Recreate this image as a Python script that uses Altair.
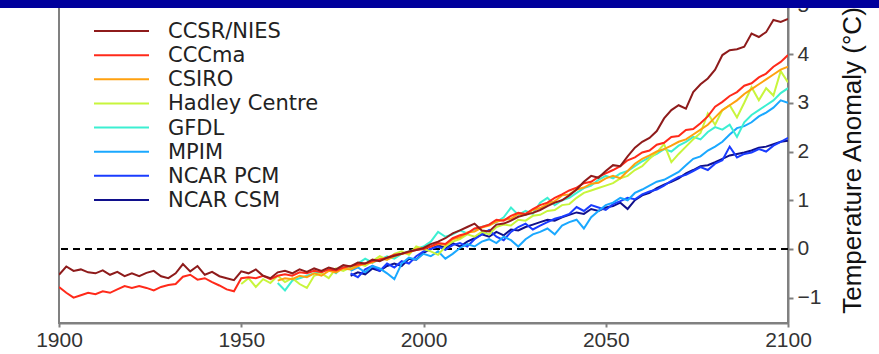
import altair as alt
import pandas as pd

# Projected global mean temperature anomaly (°C) for eight coupled models,
# sampled every two years from each model's first year to 2100.
models = ["CCSR/NIES", "CCCma", "CSIRO", "Hadley Centre", "GFDL", "MPIM", "NCAR PCM", "NCAR CSM"]
colors = ["#8e1b1b", "#ff2a1a", "#ffa10f", "#c8f53c", "#3cefd2", "#1aa8ff", "#1a3cff", "#10108c"]
start_years = [1900, 1900, 1960, 1950, 1960, 1980, 1980, 1980]
year_ticks = [1900, 1950, 2000, 2050, 2100]
anomaly_ticks = [-1, 0, 1, 2, 3, 4, 5]

ccsr_nies = [
    -0.53, -0.36, -0.45, -0.42, -0.48, -0.5, -0.44, -0.53, -0.47, -0.56, -0.5, -0.56, -0.49,
    -0.45, -0.56, -0.6, -0.5, -0.31, -0.46, -0.35, -0.53, -0.47, -0.56, -0.6, -0.64, -0.46,
    -0.5, -0.42, -0.55, -0.6, -0.48, -0.45, -0.5, -0.42, -0.47, -0.4, -0.45, -0.38, -0.42,
    -0.33, -0.36, -0.28, -0.3, -0.22, -0.25, -0.18, -0.14, -0.1, -0.05, -0.02, 0.02,
    0.1, 0.15, 0.22, 0.32, 0.38, 0.45, 0.52, 0.38, 0.36, 0.5, 0.52, 0.58, 0.66, 0.7, 0.74,
    0.8, 0.88, 0.95, 1.0, 1.1, 1.22, 1.38, 1.5, 1.46, 1.6,
    1.72, 1.7, 1.9, 2.08, 2.2, 2.28, 2.42, 2.68, 2.85, 2.95, 2.88, 3.22, 3.38, 3.5, 3.68,
    3.98, 4.08, 4.1, 4.15, 4.42, 4.35, 4.45, 4.7, 4.66, 4.72,
]
cccma = [
    -0.78, -0.9, -1.0, -0.95, -0.9, -0.93, -0.87, -0.9, -0.83, -0.76, -0.8, -0.76, -0.8,
    -0.85, -0.78, -0.74, -0.72, -0.57, -0.53, -0.63, -0.6, -0.68, -0.75, -0.83, -0.87, -0.6,
    -0.58, -0.6, -0.55, -0.62, -0.55, -0.52, -0.55, -0.48, -0.5, -0.45, -0.48, -0.42, -0.44,
    -0.38, -0.35, -0.32, -0.3, -0.25, -0.22, -0.18, -0.12, -0.1, -0.06, -0.02, 0.0,
    0.05, 0.12, 0.1, 0.22, 0.28, 0.32, 0.42, 0.45, 0.5, 0.6, 0.58, 0.68, 0.74, 0.72, 0.82,
    0.9, 0.95, 1.05, 1.12, 1.2, 1.26, 1.35, 1.38, 1.48, 1.55,
    1.62, 1.7, 1.82, 1.88, 1.98, 2.02, 2.14, 2.18, 2.3, 2.32, 2.44, 2.46, 2.58, 2.72, 2.92,
    3.02, 3.14, 3.22, 3.35, 3.4, 3.52, 3.6, 3.74, 3.84, 3.98,
]
csiro = [
    -0.65, -0.6, -0.62, -0.55, -0.58, -0.5, -0.55, -0.45, -0.48, -0.4, -0.42, -0.35, -0.3,
    -0.28, -0.2, -0.22, -0.15, -0.1, -0.08, 0.0, 0.02,
    0.05, 0.1, 0.08, 0.2, 0.24, 0.34, 0.36, 0.44, 0.48, 0.56, 0.6, 0.62, 0.72, 0.7, 0.8,
    0.84, 0.92, 0.98, 1.1, 1.12, 1.22, 1.26, 1.34, 1.36, 1.45,
    1.5, 1.45, 1.6, 1.75, 1.85, 1.92, 2.0, 2.05, 2.12, 2.2, 2.25, 2.35, 2.45, 2.55, 2.7,
    2.85, 2.95, 3.05, 3.18, 3.28, 3.38, 3.48, 3.58, 3.68, 3.74,
]
hadley_centre = [
    -0.72, -0.6, -0.78, -0.62, -0.7, -0.55, -0.68, -0.6, -0.72, -0.8, -0.55, -0.5, -0.6,
    -0.4, -0.45, -0.38, -0.3, -0.35, -0.25, -0.15, -0.22, -0.1, -0.05, -0.12, 0.05, 0.0,
    -0.05, -0.12, 0.05, 0.15, 0.2, 0.3, 0.25, 0.35, 0.3, 0.45, 0.5, 0.48, 0.6, 0.58, 0.68,
    0.7, 0.78, 0.8, 0.9, 0.92, 1.05, 1.15, 1.2, 1.25, 1.3,
    1.35, 1.45, 1.5, 1.62, 1.7, 1.85, 1.98, 2.15, 1.78, 1.95, 2.1, 2.25, 2.38, 2.78, 2.55,
    2.85, 2.95, 2.7, 3.0, 3.32, 3.05, 3.3, 3.15, 3.65, 3.42,
]
gfdl = [
    -0.7, -0.85, -0.65, -0.6, -0.55, -0.5, -0.48, -0.4, -0.5, -0.35, -0.42, -0.3, -0.2,
    -0.28, -0.22, -0.15, -0.2, -0.1, -0.05, 0.0, 0.05,
    0.15, 0.35, 0.25, 0.3, 0.38, 0.32, 0.4, 0.45, 0.5, 0.55, 0.65, 0.85, 0.7, 0.78, 0.72,
    0.95, 1.05, 0.9, 1.0, 1.05, 1.15, 1.25, 1.3, 1.42, 1.5,
    1.45, 1.55, 1.6, 1.7, 1.8, 1.88, 1.95, 2.05, 2.0, 2.12, 2.2, 2.3, 2.25, 2.4, 2.5,
    2.45, 2.55, 2.3, 2.6, 2.75, 2.85, 2.95, 3.05, 3.2, 3.3,
]
mpim = [
    -0.45, -0.38, -0.48, -0.35, -0.4, -0.5, -0.62, -0.3, -0.18, -0.22, -0.1,
    -0.15, -0.05, -0.2, -0.1, 0.02, 0.1, 0.05, 0.15, 0.2, 0.12, 0.25, 0.18, 0.05, 0.2, 0.3,
    0.35, 0.42, 0.3, 0.48, 0.55, 0.6, 0.42, 0.65, 0.78, 0.9,
    0.95, 1.05, 1.0, 1.15, 1.22, 1.3, 1.38, 1.42, 1.5, 1.58, 1.72, 1.85, 1.9, 2.02, 2.1,
    2.2, 2.35, 2.48, 2.52, 2.6, 2.72, 2.8, 2.9, 3.05, 3.0,
]
ncar_pcm = [
    -0.5, -0.58, -0.42, -0.35, -0.45, -0.3, -0.38, -0.25, -0.3, -0.15, -0.05,
    0.0, 0.05, -0.02, 0.08, 0.12, 0.05, 0.2, 0.3, 0.39, 0.25, 0.18, 0.35, 0.45, 0.52, 0.4,
    0.48, 0.55, 0.62, 0.66, 0.72, 0.86, 0.78, 0.9, 0.85, 0.8,
    0.92, 0.98, 1.05, 1.02, 1.12, 1.18, 1.22, 1.3, 1.4, 1.48, 1.52, 1.6, 1.68, 1.62, 1.75,
    1.82, 2.1, 1.88, 1.95, 1.98, 2.05, 2.0, 2.12, 2.2, 2.28,
]
ncar_csm = [
    -0.55, -0.48, -0.52, -0.4, -0.45, -0.35, -0.3, -0.35, -0.2, -0.22, -0.08,
    0.0, 0.08, 0.02, 0.12, 0.05, 0.15, 0.22, 0.3, 0.25, 0.35, 0.28, 0.4, 0.38, 0.45, 0.5,
    0.55, 0.6, 0.58, 0.65, 0.7, 0.75, 0.72, 0.82, 0.78, 0.85,
    0.88, 0.95, 0.82, 1.0, 1.1, 1.15, 1.25, 1.32, 1.38, 1.45, 1.55, 1.62, 1.7, 1.72, 1.78,
    1.85, 1.92, 1.95, 1.98, 2.02, 2.08, 2.1, 2.15, 2.2, 2.22,
]
series = [ccsr_nies, cccma, csiro, hadley_centre, gfdl, mpim, ncar_pcm, ncar_csm]

# Long-form table; the last model is listed first so CCSR/NIES is drawn on top.
rows = []
for name, start, values in reversed(list(zip(models, start_years, series))):
    for i, v in enumerate(values):
        rows.append({"model": name, "year": start + 2 * i, "anomaly": v})
df = pd.DataFrame(rows)
legend_df = pd.DataFrame({"model": models})

x_scale = alt.Scale(domain=[1900, 2100], nice=False)
y_scale = alt.Scale(domain=[-1.52, 5.11], nice=False, zero=False)
color_scale = alt.Scale(domain=models, range=colors)
row_scale = alt.Scale(type="point", domain=models, range=[31, 200], padding=0)

lines = alt.Chart(df).mark_line(strokeWidth=2, clip=True).encode(
    x=alt.X("year:Q", scale=x_scale,
            axis=alt.Axis(values=year_ticks, format="d", title=None, grid=False,
                          labelFlush=False, labelFontSize=21, labelFont="Liberation Sans",
                          labelColor="#333333", labelPadding=2, tickSize=4,
                          tickColor="#808080", tickWidth=2,
                          domainColor="#808080", domainWidth=2)),
    y=alt.Y("anomaly:Q", scale=y_scale,
            axis=alt.Axis(orient="right", values=anomaly_ticks, grid=False, labelFlush=False,
                          title="Temperature Anomaly (°C)",
                          titleFont="Liberation Sans", titleFontSize=26, titleFontWeight="normal",
                          titleColor="#111111", titleAngle=270, titleX=64, titleY=160,
                          titleAlign="center", titleBaseline="middle",
                          labelFontSize=21, labelFont="Liberation Sans", labelColor="#333333",
                          labelPadding=4, tickSize=5, tickColor="#808080", tickWidth=2,
                          domainColor="#808080", domainWidth=2)),
    color=alt.Color("model:N", scale=color_scale, legend=None),
)

zero_line = alt.Chart(pd.DataFrame({"anomaly": [0]})).mark_rule(
    color="black", strokeWidth=2, strokeDash=[7, 5]
).encode(y=alt.Y("anomaly:Q", scale=y_scale, axis=None))

# Key in the upper left: a short coloured stroke and the model name per row
key_strokes = alt.Chart(legend_df).mark_rule(strokeWidth=2).encode(
    x=alt.value(35), x2=alt.value(90),
    y=alt.Y("model:N", scale=row_scale, axis=None),
    color=alt.Color("model:N", scale=color_scale, legend=None),
)
key_labels = alt.Chart(legend_df).mark_text(
    align="left", baseline="middle", font="DejaVu Sans", fontSize=21, color="#222222", dy=1
).encode(
    x=alt.value(109),
    y=alt.Y("model:N", scale=row_scale, axis=None),
    text="model:N",
)
key = alt.layer(key_strokes, key_labels)

# Dark title band along the top edge of the page
band = alt.Chart(pd.DataFrame({"k": [0]})).mark_rect(color="#00009c").encode(
    x=alt.value(-59), x2=alt.value(820), y=alt.value(0), y2=alt.value(8)
)

chart = alt.layer(zero_line, lines, key, band).resolve_scale(
    y="independent"
).properties(
    width=729, height=323,
    padding={"left": 59, "top": 0, "right": 91, "bottom": 31},
    autosize="none",
    background="white",
).configure_view(stroke="#808080", strokeWidth=2)

chart.save("out.html", embed_options={"renderer": "svg", "actions": False})
